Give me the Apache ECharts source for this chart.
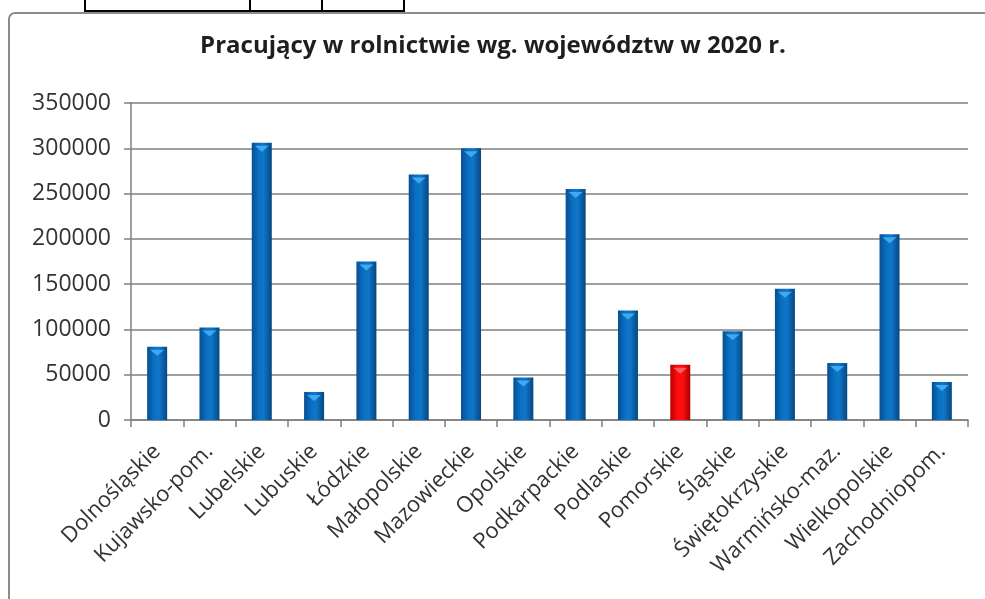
<!DOCTYPE html>
<html>
<head>
<meta charset="utf-8">
<script src="https://cdn.jsdelivr.net/npm/echarts@6/dist/echarts.min.js"></script>
<style>
  html, body { margin: 0; padding: 0; background: #fff; }
  #chart { width: 985px; height: 599px; }
</style>
</head>
<body>
<div id="chart"></div>
<script>
// dane: pracujący w rolnictwie wg. województw, 2020
const regions = ["Dolnośląskie", "Kujawsko-pom.", "Lubelskie", "Lubuskie", "Łódzkie", "Małopolskie",
  "Mazowieckie", "Opolskie", "Podkarpackie", "Podlaskie", "Pomorskie", "Śląskie",
  "Świętokrzyskie", "Warmińsko-maz.", "Wielkopolskie", "Zachodniopom."];
const workers = [81000, 102000, 306000, 31000, 175000, 271000, 300000, 47000, 255000, 121000,
  61000, 98000, 145000, 63000, 205000, 42000];
const highlighted = ["Pomorskie"];
const yTicks = [0, 50000, 100000, 150000, 200000, 250000, 300000, 350000];

const blueBar = new echarts.graphic.LinearGradient(0, 0, 1, 0, [
  { offset: 0, color: "#064f8f" },
  { offset: 0.35, color: "#0b70c4" },
  { offset: 0.6, color: "#0f76c9" },
  { offset: 1, color: "#054780" }
]);
const redBar = new echarts.graphic.LinearGradient(0, 0, 1, 0, [
  { offset: 0, color: "#b80000" },
  { offset: 0.35, color: "#ff0a0a" },
  { offset: 0.6, color: "#ff1010" },
  { offset: 1, color: "#a80000" }
]);

const chart = echarts.init(document.getElementById("chart"));

const option = {
  animation: false,
  backgroundColor: "#fff",
  graphic: [
    // fragment tabeli nad wykresem
    { type: "rect", shape: { x: 85, y: -5, width: 319, height: 16 }, style: { fill: null, stroke: "#000", lineWidth: 2 } },
    { type: "line", shape: { x1: 250, y1: 0, x2: 250, y2: 11 }, style: { stroke: "#000", lineWidth: 2 } },
    { type: "line", shape: { x1: 322, y1: 0, x2: 322, y2: 11 }, style: { stroke: "#000", lineWidth: 2 } },
    // ramka wykresu
    { type: "rect", shape: { x: 9, y: 13, width: 1000, height: 620, r: 6 }, style: { fill: null, stroke: "#8c8c8c", lineWidth: 2 } },
    {
      type: "text", x: 493, y: 34,
      style: {
        text: "Pracujący w rolnictwie wg. województw w 2020 r.",
        fill: "#1e1e1e", font: "bold 24px 'Open Sans'", textAlign: "center", textVerticalAlign: "top"
      }
    }
  ],
  grid: { left: 131, right: 17, top: 103, bottom: 179 },
  xAxis: {
    type: "category",
    data: regions,
    axisLine: { lineStyle: { color: "#7f7f7f", width: 1.5 } },
    axisTick: { show: true, length: 7, lineStyle: { color: "#7f7f7f", width: 1.5 } },
    axisLabel: { rotate: 45, interval: 0, color: "#333", fontSize: 22, fontFamily: "Open Sans", margin: 28 }
  },
  yAxis: {
    type: "value",
    min: yTicks[0],
    max: yTicks[yTicks.length - 1],
    interval: yTicks[1] - yTicks[0],
    axisLine: { show: true, lineStyle: { color: "#7f7f7f", width: 1.5 } },
    axisTick: { show: true, length: 7, lineStyle: { color: "#7f7f7f", width: 1.5 } },
    splitLine: { lineStyle: { color: "#7f7f7f", width: 1.5 } },
    axisLabel: {
      color: "#333", fontSize: 23, fontFamily: "Open Sans", margin: 20,
      formatter: (v) => String(v)
    }
  },
  series: [
    {
      type: "bar",
      barWidth: 20,
      data: workers.map((v, i) => ({
        value: v,
        itemStyle: { color: highlighted.includes(regions[i]) ? redBar : blueBar }
      }))
    },
    {
      // jaśniejsza "czapka" u góry słupka
      type: "pictorialBar",
      symbol: "triangle",
      symbolRotate: 180,
      symbolSize: [14, 6],
      symbolPosition: "end",
      symbolOffset: [0, 3],
      z: 3,
      data: workers.map((v, i) => ({
        value: v,
        itemStyle: { color: highlighted.includes(regions[i]) ? "#ff5a5a" : "#3fa9ef" }
      }))
    }
  ]
};

chart.setOption(option);
</script>
</body>
</html>
